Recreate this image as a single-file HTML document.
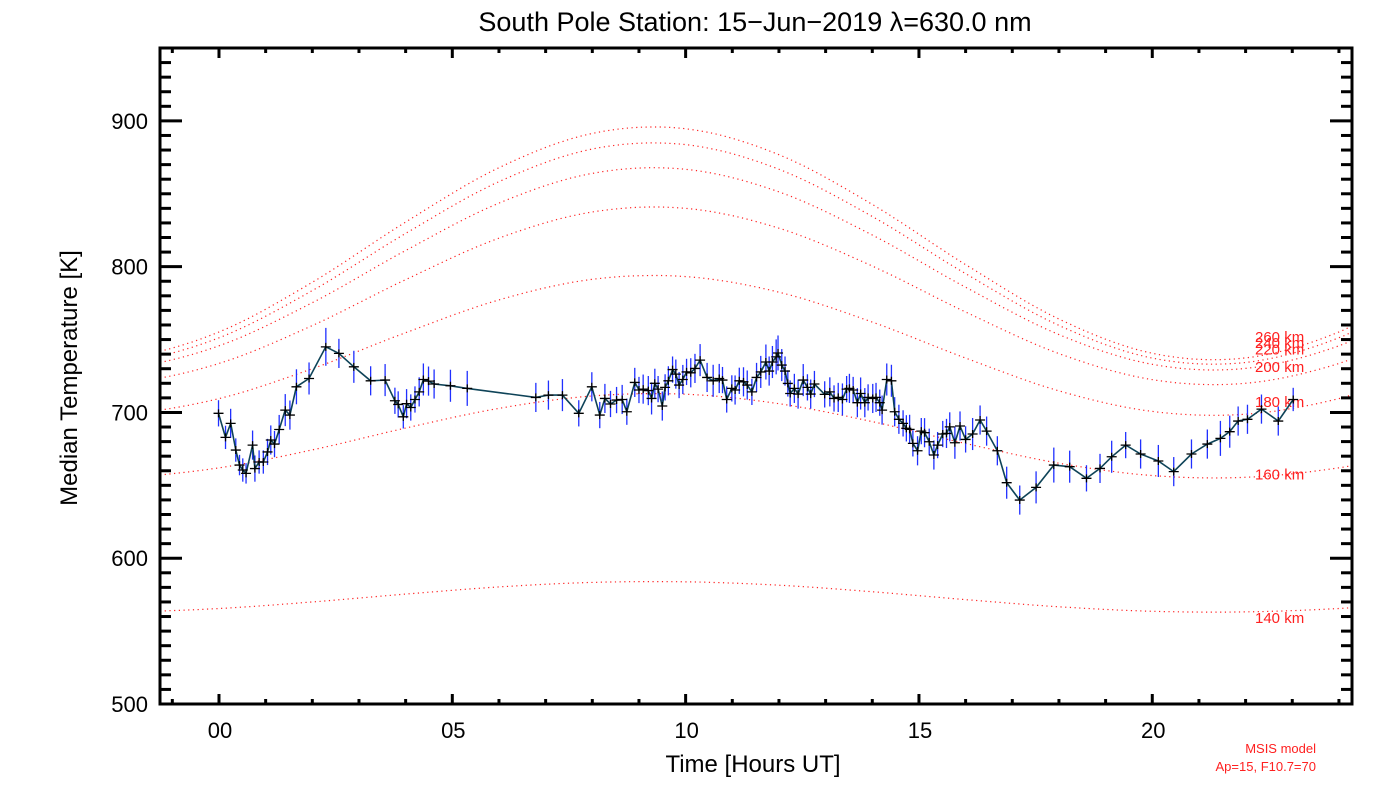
<!DOCTYPE html>
<html><head><meta charset="utf-8"><style>
html,body{margin:0;padding:0;background:#fff;}
svg{display:block;font-family:"Liberation Sans",sans-serif;}
</style></head><body>
<svg id="chart" width="1400" height="800" viewBox="0 0 1400 800" xmlns="http://www.w3.org/2000/svg">
<rect x="0" y="0" width="1400" height="800" fill="#fff"/>
<text x="755" y="31" font-size="27" text-anchor="middle" fill="#000">South Pole Station: 15−Jun−2019 λ=630.0 nm</text>
<text x="753" y="772" font-size="24" text-anchor="middle" fill="#000">Time [Hours UT]</text>
<text transform="translate(77,378) rotate(-90)" font-size="24" text-anchor="middle" fill="#000">Median Temperature [K]</text>
<text x="1316" y="753" font-size="13" text-anchor="end" fill="#ff2020">MSIS model</text>
<text x="1316" y="771" font-size="13" text-anchor="end" fill="#ff2020">Ap=15, F10.7=70</text>
<g id="models"></g>
<g id="series"></g>
<g id="axes"></g>
</svg>
<script>
const modelHours=[-2,0,2,4,6,8,10,12,14,16,18,20,22,24,26];
const modelAlt=['140 km','160 km','180 km','200 km','220 km','240 km','260 km'];
const m140=[563.2,565.5,570.0,575.4,580.3,583.4,583.8,581.5,577.0,571.6,566.7,563.6,563.2,565.5,570.0];
const m160=[655.5,662.0,674.3,689.3,702.8,711.3,712.5,706.0,693.7,678.7,665.2,656.7,655.5,662.0,674.3];
const m180=[698.9,709.5,730.0,754.7,777.2,791.3,793.2,782.5,762.0,737.3,714.8,700.7,698.8,709.5,730.0];
const m200=[720.1,733.6,759.6,791.1,819.6,837.5,840.0,826.4,800.4,768.9,740.4,722.5,720.0,733.6,759.6];
const m220=[730.3,745.7,775.3,811.1,843.6,864.0,866.8,851.3,821.7,785.9,753.4,733.0,730.2,745.7,775.3];
const m240=[734.4,751.2,783.6,822.8,858.3,880.7,883.7,866.8,834.4,795.2,759.7,737.3,734.3,751.2,783.6];
const m260=[737.4,755.2,789.3,830.6,867.9,891.4,894.6,876.8,842.7,801.4,764.1,740.6,737.4,755.2,789.3];
const models=[m140,m160,m180,m200,m220,m240,m260];

const obsTime=[-0.01,0.14,0.25,0.36,0.44,0.51,0.58,0.72,0.77,0.86,0.95,1.04,1.11,1.19,1.29,1.42,1.52,1.66,1.93,2.29,2.57,2.89,3.25,3.56,3.77,3.84,3.95,4.02,4.11,4.20,4.29,4.38,4.49,4.61,4.96,5.32,6.79,7.06,7.36,7.71,7.99,8.16,8.27,8.39,8.52,8.64,8.74,8.91,9.00,9.09,9.20,
9.27,9.34,9.41,9.50,9.56,9.63,9.72,9.79,9.86,9.94,10.02,10.11,10.20,10.31,10.46,10.59,10.72,10.79,10.88,10.99,11.06,11.15,11.24,11.32,11.42,11.52,11.61,11.72,11.79,11.86,11.94,11.98,12.06,12.13,12.19,12.24,12.33,12.41,12.52,12.61,12.68,12.76,12.98,13.09,13.18,13.27,13.36,13.45,13.51,13.59,13.68,13.75,13.84,13.91,14.01,14.08,14.16,14.21,14.31,14.41,14.48,14.57,14.66,14.73,14.80,14.87,14.97,15.05,15.12,15.22,15.32,15.40,15.51,15.59,15.66,15.77,15.88,16.00,16.15,16.31,16.45,16.68,16.88,17.16,17.51,17.89,18.23,18.59,18.88,19.13,19.43,19.75,
20.13,20.46,20.84,21.18,21.46,21.66,21.84,22.04,22.34,22.70,23.02];
const obsTemp=[699.4,682.9,692.5,674.2,663.9,660.5,658.2,677.6,661.5,666.0,666.0,672.9,681.1,678.3,688.3,701.6,698.2,717.6,723.3,745.0,740.5,731.3,721.7,722.2,708.0,705.5,697.0,706.0,703.4,708.9,714.1,722.6,721.5,719.5,718.3,716.5,710.3,711.9,711.9,699.4,717.6,698.2,709.6,705.8,708.5,708.9,700.5,720.6,715.4,716.0,715.0,
709.6,720.0,716.0,704.4,717.2,721.7,729.4,726.3,718.8,722.6,727.8,727.2,730.2,735.9,724.0,721.7,723.3,722.2,708.9,716.5,715.4,721.7,721.0,718.8,714.1,724.0,727.8,734.6,728.4,734.6,738.1,740.8,732.5,728.4,719.9,713.0,716.5,712.6,722.2,717.2,712.6,719.5,712.4,714.1,709.6,710.3,708.9,716.0,716.5,715.4,706.7,713.0,706.7,710.3,709.6,710.3,706.7,701.6,722.6,721.7,700.5,695.3,692.5,689.1,688.4,678.8,673.7,687.2,686.1,679.9,670.8,677.6,685.2,685.6,690.1,679.2,690.7,681.5,685.2,694.8,687.2,673.7,651.8,639.9,648.6,663.9,662.8,654.8,661.6,669.6,677.6,671.5,
666.7,659.4,671.5,678.3,682.2,686.8,694.1,695.3,702.3,694.1,708.9];
const obsErr=[9,8,10,8,7,8,7,10,9,8,8,9,10,9,10,11,10,12,11,13,10,11,10,11,9,9,8,10,9,9,10,11,10,10,11,12,10,10,11,9,10,9,10,9,9,10,9,10,9,10,10,
11,10,9,10,9,10,9,10,9,10,9,10,10,11,10,11,10,9,9,9,10,9,10,10,9,10,11,12,10,11,12,12,11,10,9,9,10,10,11,9,10,9,9,10,9,10,11,9,10,9,10,11,10,9,10,10,9,10,11,11,10,10,9,9,10,9,10,9,10,9,10,9,9,10,10,11,10,9,11,10,10,10,11,10,11,12,11,9,10,11,9,10,11,10,
10,10,12,11,10,10,10,10,8,11,17];

const yTicks=[500,600,700,800,900];
const xTicks=[0,5,10,15,20];
const xTickLabels=['00','05','10','15','20'];

const L=160,R=1352,T=48,B=704;
const XMIN=-1.264,XMAX=24.28,YMIN=500,YMAX=950;
const sx=t=>L+(t-XMIN)/(XMAX-XMIN)*(R-L);
const sy=v=>B-(v-YMIN)/(YMAX-YMIN)*(B-T);
const NS='http://www.w3.org/2000/svg';
function mk(tag,attrs,parent){const e=document.createElementNS(NS,tag);for(const k in attrs)e.setAttribute(k,attrs[k]);parent.appendChild(e);return e;}

const defs=mk('defs',{},document.getElementById('chart'));
const cp=mk('clipPath',{id:'plotclip'},defs);
mk('rect',{x:L,y:T,width:R-L,height:B-T},cp);

function interp(arr,t){
  const h=modelHours[1]-modelHours[0];
  let u=(t-modelHours[0])/h;let i=Math.floor(u);const f=u-i;
  const g=k=>arr[Math.max(0,Math.min(arr.length-1,k))];
  const p0=g(i-1),p1=g(i),p2=g(i+1),p3=g(i+2);
  return 0.5*((2*p1)+(-p0+p2)*f+(2*p0-5*p1+4*p2-p3)*f*f+(-p0+3*p1-3*p2+p3)*f*f*f);
}
const labelShift=[7,0,-8,-11,-13,-13,-14];
const mg=document.getElementById('models');
models.forEach((arr,k)=>{
  let d='';
  for(let t=XMIN;t<=XMAX+0.001;t+=0.1){d+=(d?'L':'M')+sx(t).toFixed(1)+','+sy(interp(arr,t)).toFixed(1);}
  const p=mk('path',{d:d,fill:'none',stroke:'#ff2020','stroke-width':1.2,'stroke-dasharray':'1.2 3.5','clip-path':'url(#plotclip)'},mg);
  
  
  const lt=22.8;
  const tx=mk('text',{x:1255,y:sy(interp(arr,lt))+5+labelShift[k],'font-size':15,fill:'#ff2020'},mg);
  tx.textContent=modelAlt[k];
  
  
});

const sg=document.getElementById('series');
obsTime.forEach((t,i)=>{
  const eb=mk('line',{x1:sx(t),x2:sx(t),y1:sy(obsTemp[i]-obsErr[i]),y2:sy(obsTemp[i]+obsErr[i]),stroke:'#2030ff','stroke-width':1.3},sg);
  
  
});
let d='';
obsTime.forEach((t,i)=>{d+=(i?'L':'M')+sx(t).toFixed(1)+','+sy(obsTemp[i]).toFixed(1);});
const ln=mk('path',{d:d,fill:'none',stroke:'#0e4358','stroke-width':1.6},sg);


obsTime.forEach((t,i)=>{
  const x=sx(t),y=sy(obsTemp[i]);
  const c=mk('path',{d:`M${x-5},${y}H${x+5}M${x},${y-4}V${y+4}`,stroke:'#000','stroke-width':1.3},sg);
  
  
});

const ag=document.getElementById('axes');
const fr=mk('rect',{x:L,y:T,width:R-L,height:B-T,fill:'none',stroke:'#000','stroke-width':3},ag);


for(let h=-1;h<=24;h++){
  const x=sx(h),major=h%5===0,len=major?10:5;
  mk('line',{x1:x,x2:x,y1:B,y2:B-len,stroke:'#000','stroke-width':3},ag);
  mk('line',{x1:x,x2:x,y1:T,y2:T+len,stroke:'#000','stroke-width':3},ag);
}
for(let v=500;v<=950;v+=10){
  const y=sy(v),major=v%100===0,len=major?22:11;
  mk('line',{x1:L,x2:L+len,y1:y,y2:y,stroke:'#000','stroke-width':3},ag);
  mk('line',{x1:R,x2:R-len,y1:y,y2:y,stroke:'#000','stroke-width':3},ag);
}
xTicks.forEach((h,i)=>{
  const t=mk('text',{x:sx(h)+1,y:738,'font-size':22,'text-anchor':'middle',fill:'#000'},ag);
  t.textContent=xTickLabels[i];
  
  
});
yTicks.forEach(v=>{
  const t=mk('text',{x:148,y:sy(v)+8,'font-size':22,'text-anchor':'end',fill:'#000'},ag);
  t.textContent=v;
  
  
});
</script>
</body></html>
